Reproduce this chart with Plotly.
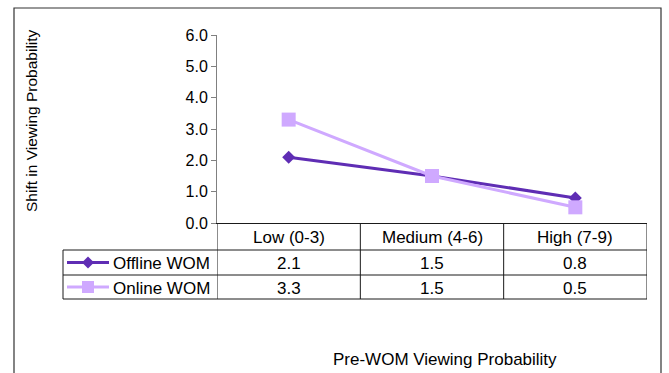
import plotly.graph_objects as go

# ---------------- data ----------------
categories = ["Low (0-3)", "Medium (4-6)", "High (7-9)"]
offline_wom = [2.1, 1.5, 0.8]
online_wom = [3.3, 1.5, 0.5]
series_names = ["Offline WOM", "Online WOM"]
y_ticks = [0, 1, 2, 3, 4, 5, 6]
y_title = "Shift in Viewing Probability"
x_title = "Pre-WOM Viewing Probability"

# ---------------- layout geometry (pixels) ----------------
W, H = 669, 373
L, R, T, B = 217, 647, 35, 223          # plot area edges
FONT = "Liberation Sans, Arial, sans-serif"
OFF_COLOR = "#5f2db4"
ON_COLOR = "#cfa9ff"
TXT = 17

def px(x):  # pixel x -> paper
    return (x - L) / (R - L)

def py(y):  # pixel y -> paper
    return (B - y) / (B - T)

fig = go.Figure()
xs = list(range(len(categories)))
fig.add_trace(go.Scatter(x=xs, y=offline_wom, mode="lines+markers", name=series_names[0],
                         line=dict(color=OFF_COLOR, width=3),
                         marker=dict(symbol="diamond", size=10, color=OFF_COLOR),
                         cliponaxis=False, showlegend=False))
fig.add_trace(go.Scatter(x=xs, y=online_wom, mode="lines+markers", name=series_names[1],
                         line=dict(color=ON_COLOR, width=3),
                         marker=dict(symbol="square", size=14, color=ON_COLOR),
                         cliponaxis=False, showlegend=False))

shapes = []
ann = []
LINE = dict(color="#1a1a1a", width=1)

# table rows (pixel y)
hdr_bot, row1_bot, row2_bot = 250, 275, 299
tbl_left = 63

for yb in (hdr_bot, row1_bot, row2_bot):
    shapes.append(dict(type="line", xref="paper", yref="paper", x0=px(tbl_left), x1=1,
                       y0=py(yb), y1=py(yb), line=LINE))
shapes.append(dict(type="line", xref="paper", yref="paper", x0=px(tbl_left), x1=px(tbl_left),
                   y0=py(hdr_bot), y1=py(row2_bot), line=LINE))
for i in range(len(categories) + 1):
    xv = i - 0.5
    shapes.append(dict(type="line", xref="x", yref="paper", x0=xv, x1=xv, y0=0, y1=py(row2_bot), line=LINE))

# outer frame (bottom edge out of view)
shapes.append(dict(type="rect", xref="paper", yref="paper", x0=px(14), x1=px(661), y0=py(8), y1=py(390),
                   line=dict(color="#333333", width=1.2), fillcolor="rgba(0,0,0,0)", layer="below"))

def text(x, y, s, xref="paper", size=TXT, xanchor="center", angle=0):
    ann.append(dict(x=x, y=y, xref=xref, yref="paper", text=s, showarrow=False,
                    xanchor=xanchor, yanchor="middle", textangle=angle,
                    font=dict(size=size, family=FONT, color="black")))

hdr_c = (B + hdr_bot) / 2 + 1
for i, c in enumerate(categories):
    text(i, py(hdr_c), c, xref="x")

rows = [(offline_wom, (hdr_bot + row1_bot) / 2, OFF_COLOR, "diamond"),
        (online_wom, (row1_bot + row2_bot) / 2, ON_COLOR, "square")]
for (vals, yc, col, sym), name in zip(rows, series_names):
    for i, v in enumerate(vals):
        text(i, py(yc + 1), f"{v:.1f}", xref="x")
    text(px(111), py(yc + 1), name, xanchor="left")
    shapes.append(dict(type="line", xref="paper", yref="paper", x0=px(67), x1=px(109), y0=py(yc), y1=py(yc),
                       line=dict(color=col, width=3)))
    cx, cy = 88, yc
    if sym == "diamond":
        d = 6
        path = (f"M {px(cx)} {py(cy - d)} L {px(cx + d)} {py(cy)} L {px(cx)} {py(cy + d)} "
                f"L {px(cx - d)} {py(cy)} Z")
        shapes.append(dict(type="path", xref="paper", yref="paper", path=path, fillcolor=col,
                           line=dict(color=col, width=0)))
    else:
        s = 6
        shapes.append(dict(type="rect", xref="paper", yref="paper", x0=px(cx - s), x1=px(cx + s),
                           y0=py(cy - s), y1=py(cy + s), fillcolor=col, line=dict(color=col, width=0)))

text(px(31), py(121), y_title, size=15.5, angle=-90)
text(px(445), py(359), x_title)

fig.update_layout(
    width=W, height=H,
    margin=dict(l=L, r=W - R, t=T, b=H - B, pad=0),
    paper_bgcolor="white", plot_bgcolor="white",
    shapes=shapes, annotations=ann,
    font=dict(family=FONT, size=16, color="black"),
    xaxis=dict(range=[-0.5, len(categories) - 0.5], showticklabels=False, ticks="",
               showgrid=False, zeroline=False, showline=True, linecolor="#1a1a1a", linewidth=1),
    yaxis=dict(range=[0, 6], tickvals=y_ticks, ticktext=[f"{t:.1f}" for t in y_ticks],
               ticks="outside", ticklen=5, tickcolor="#808080", showgrid=False, zeroline=False,
               showline=True, linecolor="#808080", linewidth=1,
               tickfont=dict(size=16, family=FONT, color="black")),
)
fig.write_html("out.html")
